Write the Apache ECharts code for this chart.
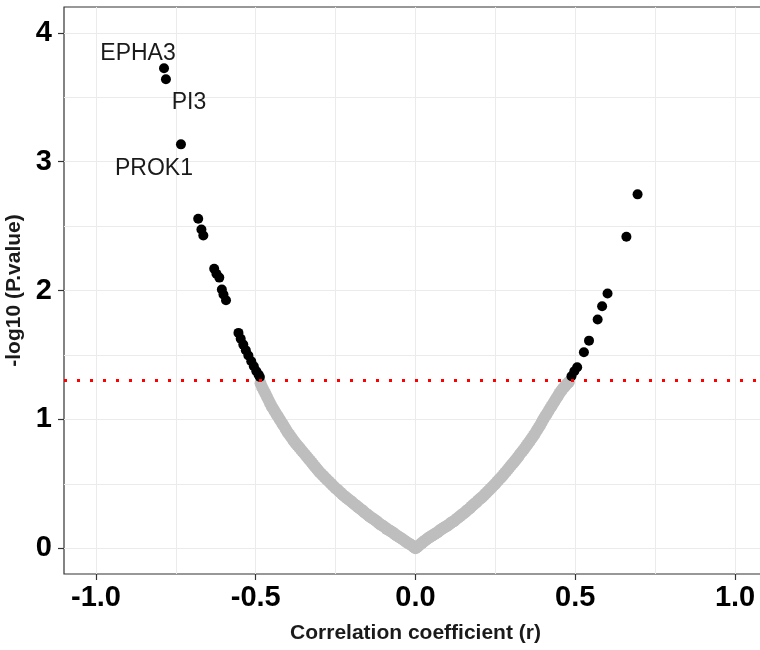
<!DOCTYPE html>
<html>
<head>
<meta charset="utf-8">
<title>Correlation volcano plot</title>
<script src="https://cdn.jsdelivr.net/npm/echarts@6/dist/echarts.min.js"></script>
<style>
  html, body { margin: 0; padding: 0; background: #ffffff; }
  #chart { width: 760px; height: 650px; }
</style>
</head>
<body>
<div id="chart"></div>
<script>
// Axis ticks and grid positions
const xTicks = [-1.0, -0.5, 0.0, 0.5, 1.0];
const xMinor = [-0.75, -0.25, 0.25, 0.75];
const yTicks = [0, 1, 2, 3, 4];
const yMinor = [0.5, 1.5, 2.5, 3.5];

// Significance cut-off: -log10(0.05)
const threshold = 1.30103;

// Non-significant genes (grey), negative correlation
const greyNegR = [
  -0.485, -0.480, -0.475, -0.470, -0.465, -0.460, -0.455, -0.450, -0.445, -0.440,
  -0.435, -0.430, -0.425, -0.420, -0.415, -0.410, -0.405, -0.400, -0.395, -0.390,
  -0.385, -0.380, -0.375, -0.370, -0.365, -0.360, -0.355, -0.350, -0.345, -0.340,
  -0.335, -0.330, -0.325, -0.320, -0.315, -0.310, -0.305, -0.300, -0.295, -0.290,
  -0.285, -0.280, -0.275, -0.270, -0.265, -0.260, -0.255, -0.250, -0.245, -0.240,
  -0.235, -0.230, -0.225, -0.220, -0.215, -0.210, -0.205, -0.200, -0.195, -0.190,
  -0.185, -0.180, -0.175, -0.170, -0.165, -0.160, -0.155, -0.150, -0.145, -0.140,
  -0.135, -0.130, -0.125, -0.120, -0.115, -0.110, -0.105, -0.100, -0.095, -0.090,
  -0.085, -0.080, -0.075, -0.070, -0.065, -0.060, -0.055, -0.050, -0.045, -0.040,
  -0.035, -0.030, -0.025, -0.020, -0.015, -0.010, -0.005, 0.000];
const greyNegP = [
  1.280, 1.250, 1.225, 1.200, 1.175, 1.150, 1.125, 1.100, 1.080, 1.060,
  1.040, 1.020, 1.000, 0.980, 0.960, 0.940, 0.920, 0.900, 0.883, 0.865,
  0.848, 0.830, 0.815, 0.800, 0.785, 0.770, 0.755, 0.740, 0.725, 0.710,
  0.695, 0.680, 0.665, 0.650, 0.635, 0.620, 0.605, 0.590, 0.578, 0.565,
  0.553, 0.540, 0.528, 0.515, 0.503, 0.490, 0.478, 0.465, 0.455, 0.445,
  0.433, 0.420, 0.410, 0.400, 0.390, 0.380, 0.370, 0.360, 0.350, 0.340,
  0.330, 0.320, 0.310, 0.300, 0.290, 0.280, 0.270, 0.260, 0.250, 0.240,
  0.233, 0.225, 0.215, 0.205, 0.195, 0.185, 0.178, 0.170, 0.160, 0.150,
  0.143, 0.135, 0.128, 0.120, 0.110, 0.100, 0.093, 0.085, 0.078, 0.070,
  0.060, 0.050, 0.043, 0.035, 0.028, 0.020, 0.010, 0.000];

// Non-significant genes (grey), positive correlation
const greyPosR = [
  0.005, 0.010, 0.015, 0.020, 0.025, 0.030, 0.035, 0.040, 0.045, 0.050,
  0.055, 0.060, 0.065, 0.070, 0.075, 0.080, 0.085, 0.090, 0.095, 0.100,
  0.105, 0.110, 0.115, 0.120, 0.125, 0.130, 0.135, 0.140, 0.145, 0.150,
  0.155, 0.160, 0.165, 0.170, 0.175, 0.180, 0.185, 0.190, 0.195, 0.200,
  0.205, 0.210, 0.215, 0.220, 0.225, 0.230, 0.235, 0.240, 0.245, 0.250,
  0.255, 0.260, 0.265, 0.270, 0.275, 0.280, 0.285, 0.290, 0.295, 0.300,
  0.305, 0.310, 0.315, 0.320, 0.325, 0.330, 0.335, 0.340, 0.345, 0.350,
  0.355, 0.360, 0.365, 0.370, 0.375, 0.380, 0.385, 0.390, 0.395, 0.400,
  0.405, 0.410, 0.415, 0.420, 0.425, 0.430, 0.435, 0.440, 0.445, 0.450,
  0.455, 0.460, 0.465, 0.470, 0.475, 0.480];
const greyPosP = [
  0.010, 0.020, 0.030, 0.040, 0.050, 0.060, 0.070, 0.080, 0.088, 0.095,
  0.103, 0.110, 0.118, 0.125, 0.135, 0.145, 0.153, 0.160, 0.168, 0.175,
  0.185, 0.195, 0.203, 0.210, 0.220, 0.230, 0.240, 0.250, 0.260, 0.270,
  0.280, 0.290, 0.300, 0.310, 0.323, 0.335, 0.345, 0.355, 0.368, 0.380,
  0.390, 0.400, 0.413, 0.425, 0.438, 0.450, 0.463, 0.475, 0.488, 0.500,
  0.515, 0.530, 0.543, 0.555, 0.570, 0.585, 0.600, 0.615, 0.630, 0.645,
  0.660, 0.675, 0.690, 0.705, 0.723, 0.740, 0.755, 0.770, 0.788, 0.805,
  0.823, 0.840, 0.858, 0.875, 0.895, 0.915, 0.935, 0.955, 0.978, 1.000,
  1.020, 1.040, 1.060, 1.080, 1.100, 1.120, 1.140, 1.160, 1.180, 1.200,
  1.218, 1.235, 1.250, 1.265, 1.278, 1.290];

// Significant genes (black), negative correlation
const sigNegR = [-0.787, -0.781, -0.734, -0.680, -0.670, -0.664, -0.630, -0.623, -0.614, -0.606,
  -0.601, -0.593, -0.554, -0.547, -0.539, -0.531, -0.523, -0.514, -0.506, -0.498,
  -0.491, -0.487];
const sigNegP = [3.725, 3.640, 3.134, 2.557, 2.474, 2.427, 2.169, 2.130, 2.100, 2.008,
  1.969, 1.925, 1.671, 1.625, 1.580, 1.536, 1.495, 1.451, 1.412, 1.373,
  1.347, 1.329];

// Significant genes (black), positive correlation
const sigPosR = [0.488, 0.497, 0.506, 0.527, 0.543, 0.570, 0.584, 0.601, 0.660, 0.695];
const sigPosP = [1.334, 1.373, 1.404, 1.521, 1.611, 1.775, 1.878, 1.977, 2.417, 2.746];

// Named genes: index into the negative-side significant arrays
const geneNames = ['EPHA3', 'PI3', 'PROK1'];
const geneIndex = [0, 1, 2];

const FONT = '"Liberation Sans", Arial, Helvetica, sans-serif';

const zip = (a, b) => a.map((v, i) => [v, b[i]]);

// label nudges (px) so the gene names sit beside their points
const labelOffsets = [[-26, -15], [23, 23], [-27, 24]];

const sigData = zip(sigNegR, sigNegP).map((pt, i) => {
  const k = geneIndex.indexOf(i);
  if (k < 0) return pt;
  return {
    value: pt,
    label: {
      show: true,
      position: 'inside',
      formatter: geneNames[k],
      offset: labelOffsets[k],
      fontSize: 23,
      fontFamily: FONT,
      color: '#1a1a1a',
      textBorderWidth: 0,
      textBorderColor: 'transparent',
      opacity: 1
    }
  };
}).concat(zip(sigPosR, sigPosP));

const greyData = zip(greyNegR, greyNegP).concat(zip(greyPosR, greyPosP));

const chart = echarts.init(document.getElementById('chart'), null, { renderer: 'canvas' });

chart.setOption({
  animation: false,
  backgroundColor: '#ffffff',
  grid: {
    left: 64, top: 7, width: 703, height: 567,
    containLabel: false,
    outerBoundsMode: 'none',
    show: true,
    borderColor: '#333333',
    borderWidth: 1.2,
    backgroundColor: '#ffffff'
  },
  xAxis: {
    type: 'value',
    min: -1.1, max: 1.1,
    name: 'Correlation coefficient (r)',
    nameLocation: 'middle',
    nameGap: 49,
    nameTextStyle: { fontSize: 21, fontWeight: 'bold', color: '#1a1a1a', fontFamily: FONT },
    axisLine: { show: false, onZero: false },
    splitLine: { show: false },
    axisTick: {
      show: true, length: 6, customValues: xTicks,
      lineStyle: { color: '#333333', width: 1.2 }
    },
    axisLabel: {
      customValues: xTicks,
      margin: 9,
      fontSize: 29, fontWeight: 'bold', color: '#000000', fontFamily: FONT,
      formatter: v => v.toFixed(1)
    }
  },
  yAxis: {
    type: 'value',
    min: -0.2, max: 4.2,
    name: '-log10 (P.value)',
    nameLocation: 'middle',
    nameGap: 33,
    nameRotate: 90,
    nameTextStyle: { fontSize: 21, fontWeight: 'bold', color: '#1a1a1a', fontFamily: FONT },
    axisLine: { show: false, onZero: false },
    splitLine: { show: false },
    axisTick: {
      show: true, length: 6, customValues: yTicks,
      lineStyle: { color: '#333333', width: 1.2 }
    },
    axisLabel: {
      customValues: yTicks,
      margin: 12,
      fontSize: 29, fontWeight: 'bold', color: '#000000', fontFamily: FONT,
      formatter: v => String(v)
    }
  },
  series: [
    {
      // background grid lines, kept beneath every point and label
      type: 'line',
      data: [],
      z: 0,
      silent: true,
      markLine: {
        z: 0,
        silent: true,
        symbol: ['none', 'none'],
        label: { show: false },
        emphasis: { disabled: true },
        lineStyle: { color: '#ebebeb', width: 1, type: 'solid', opacity: 1 },
        data: xTicks.concat(xMinor).map(v => ({ xAxis: v }))
          .concat(yTicks.concat(yMinor).map(v => ({ yAxis: v })))
      }
    },
    {
      name: 'not significant',
      type: 'scatter',
      data: greyData,
      symbol: 'circle',
      symbolSize: 12,
      itemStyle: { color: '#bebebe', opacity: 1 },
      z: 2,
      silent: true
    },
    {
      name: 'significant',
      type: 'scatter',
      data: sigData,
      symbol: 'circle',
      symbolSize: 10,
      itemStyle: { color: '#000000', opacity: 1 },
      z: 3,
      silent: true
    },
    {
      // p = 0.05 cut-off
      type: 'line',
      data: [],
      z: 4,
      silent: true,
      markLine: {
        z: 4,
        silent: true,
        symbol: ['none', 'none'],
        label: { show: false },
        emphasis: { disabled: true },
        lineStyle: { color: '#ff0000', width: 3, type: [3, 10], cap: 'butt', opacity: 1 },
        data: [{ yAxis: threshold }]
      }
    }
  ]
});
</script>
</body>
</html>
